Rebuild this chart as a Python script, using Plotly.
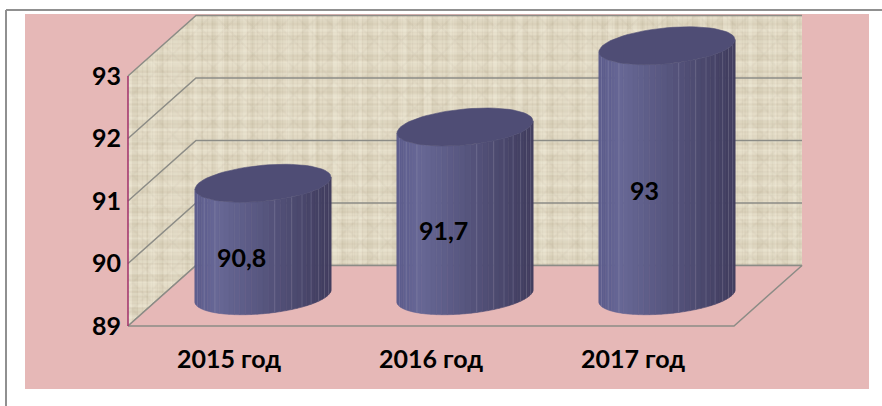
import math
import plotly.graph_objects as go

# ---- data ----
categories = ["2015 год", "2016 год", "2017 год"]
values = [90.8, 91.7, 93.0]
value_labels = ["90,8", "91,7", "93"]
y_ticks = [89, 90, 91, 92, 93]

# ---- layout constants ----
W, H = 882, 406
L, R, T, B = 25, 869, 14, 389          # plot rect (pink)
PX_X = 202.0                            # px per category
PX_Y = 62.5                             # px per value unit
X0_PX, Y89_PX = 229.0, 326.0
x_range = [(L - X0_PX) / PX_X, (R - X0_PX) / PX_X]
y_range = [89 - (B - Y89_PX) / PX_Y, 89 + (Y89_PX - T) / PX_Y]
DX, DY = 68 / PX_X, 60.5 / PX_Y         # depth shift
XL, XR = -0.5, 2.5
YB, YT = y_ticks[0], y_ticks[-1]

PINK = "#e6b8b7"
GRID = "#8c8c86"
FONT = "Lato, Carlito, 'Open Sans', sans-serif"
TXT = dict(family=FONT, size=25, color="#000000", weight=700)

fig = go.Figure()


def poly(xs, ys, **kw):
    fig.add_trace(go.Scatter(x=xs, y=ys, mode="lines", hoverinfo="skip", showlegend=False, **kw))


WEAVE = [
    ("|", 5, 0.30, "rgba(150,140,112,0.18)"),
    ("-", 4, 0.30, "rgba(150,140,112,0.18)"),
    ("|", 13, 0.35, "rgba(140,130,104,0.17)"),
    ("-", 17, 0.45, "rgba(140,130,104,0.17)"),
    ("|", 23, 0.30, "rgba(255,252,240,0.28)"),
    ("-", 11, 0.30, "rgba(255,252,240,0.28)"),
    ("x", 19, 0.18, "rgba(140,130,104,0.12)"),
]


def textured(xs, ys):
    poly(xs, ys, fill="toself", fillcolor="#e4dcc7", line=dict(width=0))
    for shape, size, sol, col in WEAVE:
        poly(xs, ys, fill="toself", fillcolor="rgba(0,0,0,0)", line=dict(width=0),
             fillpattern=dict(shape=shape, size=size, solidity=sol,
                              bgcolor="rgba(0,0,0,0)", fgcolor=col))


# walls
textured([XL + DX, XR + DX, XR + DX, XL + DX, XL + DX], [YB + DY, YB + DY, YT + DY, YT + DY, YB + DY])
textured([XL, XL + DX, XL + DX, XL, XL], [YB, YB + DY, YT + DY, YT, YB])

# grid
for t in y_ticks:
    poly([XL, XL + DX, XR + DX], [t, t + DY, t + DY], line=dict(color=GRID, width=1.5))
# floor
poly([XL, XR, XR + DX, XL + DX, XL], [YB, YB, YB + DY, YB + DY, YB],
     fill="toself", fillcolor=PINK, line=dict(color=GRID, width=1.5))
# vertical axis line
poly([XL, XL], [YB, YT], line=dict(color="#a0306a", width=1.5))

# cylinders
A = 68 / PX_X
EB = 18 / PX_Y
ES = 6 / PX_Y
N = 36
SEAMS = [3, 6, 9, 20, 23, 25, 27, 29, 31, 33]
C_LIGHT = (104, 104, 150)
C_EDGE = (92, 92, 140)
C_DARK = (64, 60, 94)


def lerp(a, b, f):
    return tuple(a[i] + (b[i] - a[i]) * f for i in range(3))


def shade(f):
    c = lerp(C_EDGE, C_LIGHT, f / 0.16) if f < 0.16 else lerp(C_LIGHT, C_DARK, (f - 0.16) / 0.84)
    return "rgb(%d,%d,%d)" % c


for i, v in enumerate(values):
    cx = i + DX / 2
    ytop = v + DY / 2
    ybot = YB + DY / 2

    def px(t):
        return cx + A * math.cos(t)

    def off(t):
        return ES * math.cos(t) - EB * math.sin(t)

    seam_x, seam_y = [], []
    for k in range(N):
        t1 = math.pi - math.pi * k / N
        t2 = math.pi - math.pi * (k + 1) / N
        f = (px(t1) + px(t2)) / 2
        f = (f - (cx - A)) / (2 * A)
        col = shade(f)
        poly([px(t1), px(t2), px(t2), px(t1), px(t1)],
             [ytop + off(t1), ytop + off(t2), ybot + off(t2), ybot + off(t1), ytop + off(t1)],
             fill="toself", fillcolor=col, line=dict(color=col, width=0.6))
        if k in SEAMS:
            seam_x += [px(t1), px(t1), None]
            seam_y += [ytop + off(t1), ybot + off(t1), None]
    poly(seam_x, seam_y, line=dict(color="rgba(190,190,215,0.2)", width=1))
    ts = [2 * math.pi * j / 72 for j in range(73)]
    poly([cx + A * math.cos(t) for t in ts],
         [ytop + ES * math.cos(t) + EB * math.sin(t) for t in ts],
         fill="toself", fillcolor="#4f4d75", line=dict(color="#4f4d75", width=0.6))

# value labels (hand-placed in the reference)
LABEL_DX = [-22, -22, -23]
LABEL_DY = [-17, -19, -19]
for i, v in enumerate(values):
    fig.add_annotation(x=i + DX / 2, y=(v + YB) / 2 + DY / 2, text=value_labels[i],
                       xref="x", yref="y", showarrow=False,
                       xshift=LABEL_DX[i], yshift=LABEL_DY[i], font=TXT)


def paper_x(p):
    return (p - L) / (R - L)


def paper_y(p):
    return (B - p) / (B - T)


# outer frame
fig.add_shape(type="line", xref="paper", yref="paper", x0=paper_x(6), x1=paper_x(6),
              y0=paper_y(406), y1=paper_y(10), line=dict(color="#909090", width=2))
fig.add_shape(type="line", xref="paper", yref="paper", x0=paper_x(6), x1=paper_x(882),
              y0=paper_y(10), y1=paper_y(10), line=dict(color="#909090", width=2))

fig.update_layout(
    width=W, height=H, autosize=False,
    margin=dict(l=L, r=W - R, t=T, b=H - B, pad=0),
    paper_bgcolor="#ffffff", plot_bgcolor=PINK, showlegend=False, hovermode=False,
    xaxis=dict(range=x_range, domain=[0, 1], anchor="free", position=paper_y(326),
               tickmode="array", tickvals=[0, 1, 2], ticktext=categories,
               showgrid=False, zeroline=False, showline=False, ticks="outside",
               ticklen=11, tickcolor="rgba(0,0,0,0)", tickfont=TXT),
    yaxis=dict(range=y_range, domain=[0, 1], anchor="free", position=paper_x(128),
               tickmode="array", tickvals=y_ticks, ticktext=[str(t) for t in y_ticks],
               showgrid=False, zeroline=False, showline=False, ticks="outside",
               ticklen=2, tickcolor="rgba(0,0,0,0)", tickfont=TXT),
)

fig.write_html("out.html", config=dict(displayModeBar=False, staticPlot=True),
               post_script="document.body.style.margin='0';document.documentElement.style.overflow='hidden';")
